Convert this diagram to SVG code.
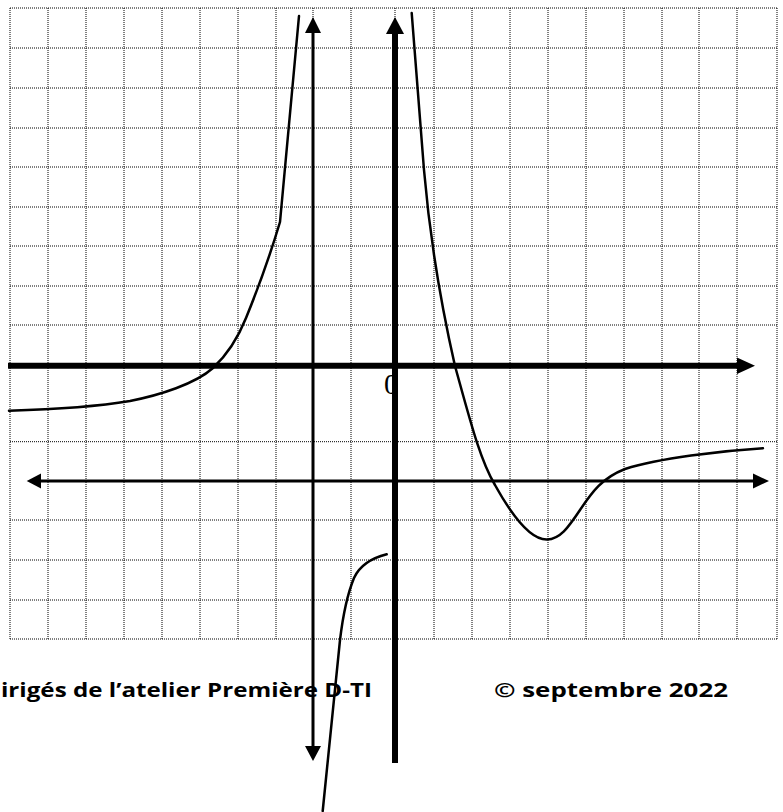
<svg xmlns="http://www.w3.org/2000/svg" width="783" height="812" viewBox="0 0 783 812">
<style>
.grid{stroke:#000;stroke-width:1;stroke-dasharray:1 1;fill:none}
.curve{stroke:#000;stroke-width:2.5;fill:none;stroke-linejoin:round;stroke-linecap:round}
.ax{stroke:#000;fill:none}
.head{fill:#000}
.lbl{font-family:"Open Sans","Liberation Sans",Arial,sans-serif;font-weight:bold;font-size:20px;fill:#000}
</style>
<rect width="783" height="812" fill="#fff"/>
<g id="grid" class="grid">
<path d="M10,8V639M48,8V639M86,8V639M124,8V639M162,8V639M200,8V639M238,8V639M276,8V639M313,8V639M351,8V639M395,8V639M434,8V639M472,8V639M510,8V639M548,8V639M586,8V639M624,8V639M662,8V639M699,8V639M737,8V639M777,8V639"/>
<path d="M10,8H777M10,48H777M10,88H777M10,128H777M10,167H777M10,207H777M10,246H777M10,286H777M10,325H777M10,441.7H777M10,520H777M10,560H777M10,600H777M10,639H777"/>
</g>
<text id="origin" x="384" y="394" font-family="Liberation Serif,serif" font-size="29">0</text>
<g id="connectors">
<g id="x-axis">
<line class="ax" x1="8" y1="365.8" x2="738" y2="365.8" stroke-width="6"/>
<polygon class="head" points="737,357.5 755,365.8 737,374"/>
</g>
<g id="y-axis">
<line class="ax" x1="395" y1="33" x2="395" y2="763" stroke-width="6"/>
<polygon class="head" points="395,17 386,34 404,34"/>
</g>
<g id="vertical-asymptote">
<line class="ax" x1="313" y1="32" x2="313" y2="747" stroke-width="3"/>
<polygon class="head" points="313,17 305,33 321,33"/>
<polygon class="head" points="313,761 305,746 321,746"/>
</g>
<g id="horizontal-asymptote">
<line class="ax" x1="40" y1="481" x2="754" y2="481" stroke-width="3"/>
<polygon class="head" points="26.7,481 41,473.5 41,488.5"/>
<polygon class="head" points="769,481 753,473.5 753,488.5"/>
</g>
</g>
<g id="curves">
<path id="branch-left" class="curve" d="M9,410.7 C50,409.5 100,406 130,401 C160,395 195,384 213,368 C228,354 238,338 246,318 C255,296 268,262 280,222 L299,16"/>
<path id="branch-right" class="curve" d="M411.7,13 L424,170 C430,240 440,300 455,366 C470,420 480,460 495,485 C510,512 530,540 547,539.5 C560,539 568,528 580,510 C592,492 602,478 625,469 C660,458 720,451 763,448.3"/>
<path id="branch-bottom" class="curve" d="M386.7,554.3 C372,558 360,565 354,578 C347,595 343,615 340,640 L322.7,811"/>
</g>
<g id="footer">
<text class="lbl" x="1" y="697" textLength="371" lengthAdjust="spacingAndGlyphs">irigés de l’atelier Première D-TI</text>
<text class="lbl" x="494" y="697" textLength="234" lengthAdjust="spacingAndGlyphs">© septembre 2022</text>
</g>
</svg>
